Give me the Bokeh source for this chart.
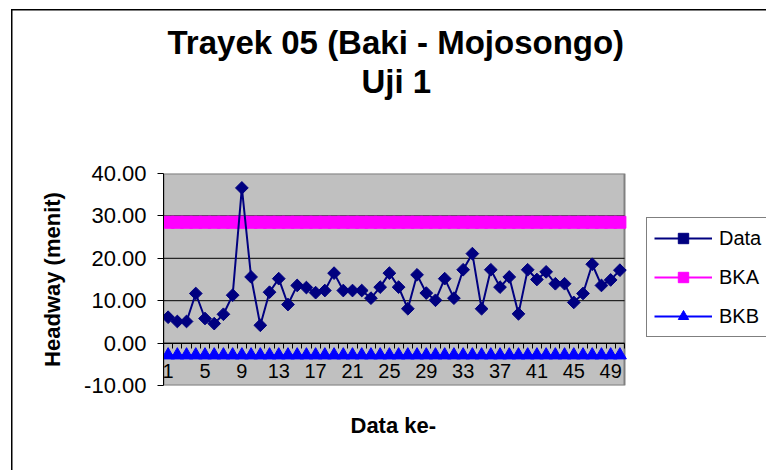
import math
from bokeh.plotting import figure
from bokeh.models import (Range1d, LinearAxis, FixedTicker, NumeralTickFormatter,
                          Title, Legend, LegendItem)
from bokeh.embed import file_html
from bokeh.resources import INLINE

# ---------------- data ----------------
data_ke = list(range(1, 51))
headway = [6.1, 5.1, 5.1, 11.7, 5.8, 4.6, 6.8, 11.3, 36.6, 15.6,
           4.2, 12.0, 15.2, 9.1, 13.6, 13.1, 11.9, 12.4, 16.5, 12.4,
           12.4, 12.4, 10.6, 13.2, 16.5, 13.2, 8.1, 16.1, 11.8, 10.1,
           15.2, 10.6, 17.3, 21.1, 8.1, 17.3, 13.2, 15.6, 6.9, 17.3,
           15.0, 16.8, 14.0, 14.0, 9.6, 11.7, 18.6, 13.6, 14.9, 17.2]
bka_value = 28.5
bkb_value = -2.84
bka = [bka_value] * len(data_ke)
bkb = [bkb_value] * len(data_ke)
y_ticks = [-10, 0, 10, 20, 30, 40]
x_label_ticks = list(range(1, 51, 4))
x_tick_marks = [i + 0.5 for i in range(0, 51)]

FONT = "Liberation Sans"

# plot-area limits (category edges) and the frame, which also holds the legend
x_lo = data_ke[0] - 0.5
x_hi = data_ke[-1] + 0.5
PLOT_W, FRAME_W = 461, 603
x_end = x_lo + (x_hi - x_lo) * FRAME_W / PLOT_W

p = figure(frame_width=FRAME_W, frame_height=212,
           x_range=Range1d(x_lo, x_end), y_range=Range1d(y_ticks[0], y_ticks[-1]),
           output_backend="svg", toolbar_location=None, x_axis_type=None,
           min_border_left=163, min_border_right=0,
           min_border_top=173, min_border_bottom=85,
           title="Trayek 05 (Baki - Mojosongo)")
# chart-area border (top and left edges; the rest lies outside the window)
p.border_fill_alpha = 0
p.background_fill_alpha = 0
p.outline_line_color = None
p.styles = {"background": "linear-gradient(#000,#000) 11px 9px / 1.5px 100% no-repeat, "
                          "linear-gradient(#000,#000) 11px 9px / 100% 1.5px no-repeat, #fff"}

p.title.align = "left"
p.title.offset = 4
p.title.standoff = 0
p.title.text_font = FONT
p.title.text_font_size = "33px"
p.title.text_font_style = "bold"
p.title.text_color = "black"

spacer = Title(text=" ", text_font=FONT, text_font_size="10px", standoff=61)
p.add_layout(spacer, "above")
t2 = Title(text="Uji 1", align="left", offset=198, standoff=0, text_font=FONT,
           text_font_size="33px", text_font_style="bold", text_color="black")
p.add_layout(t2, "above")

xlab = Title(text="Data ke-", align="left", offset=187, standoff=50, text_font=FONT,
             text_font_size="22px", text_font_style="bold", text_color="black")
p.add_layout(xlab, "below")

# plot area (grey) with its border
p.quad(left=[x_lo], right=[x_hi], bottom=[y_ticks[0]], top=[y_ticks[-1]],
       fill_color="#C0C0C0", line_color="#808080", line_width=2)
# horizontal grid lines
inner = y_ticks[1:-1]
p.segment(x0=[x_lo] * len(inner), y0=inner, x1=[x_hi] * len(inner), y1=inner,
          line_color="black", line_width=1)
p.ygrid.visible = False

# y axis
yax = p.yaxis[0]
yax.ticker = FixedTicker(ticks=y_ticks)
yax.formatter = NumeralTickFormatter(format="0.00")
yax.major_label_text_font = FONT
yax.major_label_text_font_size = "22px"
yax.major_label_text_color = "black"
yax.major_tick_out = 6
yax.major_tick_in = 0
yax.minor_tick_line_color = None
yax.axis_line_color = "black"
yax.major_tick_line_color = "black"
yax.major_label_standoff = 11
yax.axis_label = "Headway (menit)"
yax.axis_label_text_font = FONT
yax.axis_label_text_font_size = "22px"
yax.axis_label_text_font_style = "bold"
yax.axis_label_text_color = "black"
yax.axis_label_standoff = 16

# x axis at y = 0: tick marks between categories, labels every 4th
tick_axis = LinearAxis(fixed_location=0, bounds=(x_lo, x_hi),
                       ticker=FixedTicker(ticks=x_tick_marks),
                       major_label_overrides={t: "" for t in x_tick_marks},
                       major_tick_out=5, major_tick_in=0, minor_tick_out=0,
                       minor_tick_line_color=None, axis_line_color="black",
                       major_tick_line_color="black")
label_axis = LinearAxis(fixed_location=0, bounds=(x_lo, x_hi),
                        ticker=FixedTicker(ticks=x_label_ticks),
                        major_tick_out=0, major_tick_in=0, minor_tick_out=0,
                        minor_tick_line_color=None, major_tick_line_color=None,
                        axis_line_color=None, major_label_standoff=21,
                        major_label_text_font=FONT, major_label_text_font_size="20px",
                        major_label_text_color="black")
p.add_layout(tick_axis, "below")
p.add_layout(label_axis, "below")

# series
bka_line = p.line(data_ke, bka, line_color="#FF00FF", line_width=2)
bka_pts = p.scatter(data_ke, bka, marker="square", size=12,
                    fill_color="#FF00FF", line_color="#FF00FF")
bkb_line = p.line(data_ke, bkb, line_color="#0000FF", line_width=2)
bkb_pts = p.scatter(data_ke, bkb, marker="triangle", size=13,
                    fill_color="#0000FF", line_color="#0000FF")
d_line = p.line(data_ke, headway, line_color="#000080", line_width=2)
d_pts = p.scatter(data_ke, headway, marker="square", angle=math.pi / 4, size=9,
                  fill_color="#000080", line_color="#000080")

legend = Legend(items=[LegendItem(label="Data", renderers=[d_line, d_pts]),
                       LegendItem(label="BKA", renderers=[bka_line, bka_pts]),
                       LegendItem(label="BKB", renderers=[bkb_line, bkb_pts])],
                location=(483, 48), border_line_color="black", border_line_width=1,
                background_fill_color="white", background_fill_alpha=1,
                label_text_font=FONT, label_text_font_size="20px",
                label_text_color="black",
                glyph_width=58, glyph_height=26, label_height=26,
                spacing=13, padding=7, margin=0, label_standoff=7)
p.add_layout(legend)

open("out.html", "w").write(file_html(p, INLINE))
